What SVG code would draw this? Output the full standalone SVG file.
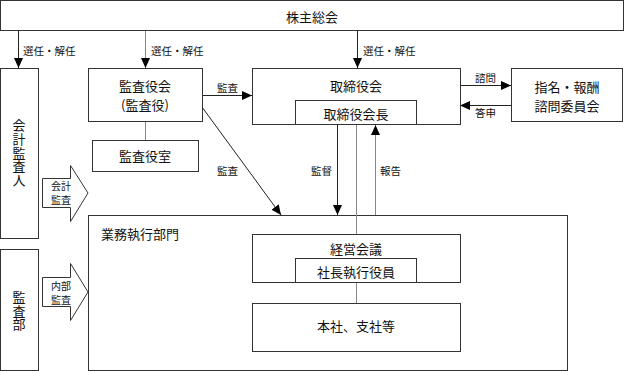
<svg xmlns="http://www.w3.org/2000/svg" width="625" height="371" viewBox="0 0 625 371">
<style>
.box{fill:#fff;stroke:#333;stroke-width:1}
.ln{fill:none;stroke:#222;stroke-width:1}
.gl{fill:none;stroke:#888;stroke-width:1}
.t{font-family:"Noto Sans CJK JP","Noto Sans CJK SC",sans-serif;font-size:13px;fill:#111;text-anchor:middle;dominant-baseline:central}
.v{font-family:"Noto Sans CJK JP","Noto Sans CJK SC",sans-serif;font-size:13px;fill:#111;text-anchor:middle;writing-mode:vertical-rl;letter-spacing:0.7px}
.s{font-family:"Noto Sans CJK JP","Noto Sans CJK SC",sans-serif;font-size:10.5px;fill:#111;dominant-baseline:central}
.a{font-family:"Noto Sans CJK JP","Noto Sans CJK SC",sans-serif;font-size:10px;fill:#111;text-anchor:middle;dominant-baseline:central}
</style>
<defs>
<marker id="ah" markerUnits="userSpaceOnUse" markerWidth="10" markerHeight="10" refX="10" refY="5" orient="auto">
<path d="M0,0.5 L10,5 L0,9.5 z" fill="#000"/>
</marker>
</defs>

<g id="shareholders">
<rect class="box" x="0.5" y="0.5" width="623" height="30"/>
<text class="t" x="312" y="16">株主総会</text>
</g>

<g id="accounting-auditor">
<rect class="box" x="0.5" y="68.5" width="38" height="170"/>
<text class="v" x="19" y="153">会計監査人</text>
</g>

<g id="audit-dept">
<rect class="box" x="0.5" y="249.5" width="38" height="121"/>
<text class="v" x="19" y="311">監査部</text>
</g>

<g id="business-exec">
<rect class="box" x="88.5" y="215.5" width="479" height="155"/>
<text class="t" x="140" y="233">業務執行部門</text>
</g>

<g id="connectors">
<line class="ln" x1="18.5" y1="31" x2="18.5" y2="68" marker-end="url(#ah)"/>
<line class="gl" x1="145.5" y1="31" x2="145.5" y2="68" marker-end="url(#ah)"/>
<line class="ln" x1="357.5" y1="31" x2="357.5" y2="68" marker-end="url(#ah)"/>
<line class="ln" x1="202" y1="95.5" x2="252" y2="95.5" marker-end="url(#ah)"/>
<line class="ln" x1="202" y1="107" x2="281" y2="215" marker-end="url(#ah)"/>
<line class="gl" x1="145.5" y1="121" x2="145.5" y2="140"/>
<line class="ln" x1="460" y1="85.5" x2="511" y2="85.5" marker-end="url(#ah)"/>
<line class="ln" x1="511" y1="105.5" x2="460" y2="105.5" marker-end="url(#ah)"/>
<line class="ln" x1="337.5" y1="125" x2="337.5" y2="215" marker-end="url(#ah)"/>
<line class="gl" x1="356.5" y1="125" x2="356.5" y2="234"/>
<line class="gl" x1="375.5" y1="215" x2="375.5" y2="125" marker-end="url(#ah)"/>
<line class="gl" x1="356.5" y1="283" x2="356.5" y2="303"/>
<text class="s" x="23" y="50">選任・解任</text>
<text class="s" x="151" y="50">選任・解任</text>
<text class="s" x="363" y="50">選任・解任</text>
<text class="s" x="217" y="87">監査</text>
<text class="s" x="217" y="170">監査</text>
<text class="s" x="311" y="170">監督</text>
<text class="s" x="380" y="170">報告</text>
<text class="s" x="475" y="77">諮問</text>
<text class="s" x="475" y="112">答申</text>
</g>

<g id="audit-board">
<rect class="box" x="88.5" y="68.5" width="114" height="53"/>
<text class="t" x="145" y="85.5">監査役会</text>
<text class="t" x="145" y="104.5">(監査役)</text>
</g>

<g id="audit-office">
<rect class="box" x="92.5" y="140.5" width="106" height="31"/>
<text class="t" x="145" y="155.5">監査役室</text>
</g>

<g id="board">
<rect class="box" x="252.5" y="68.5" width="208" height="56"/>
<text class="t" x="356" y="85">取締役会</text>
<rect class="box" x="295.5" y="100.5" width="121" height="24"/>
<text class="t" x="356" y="113">取締役会長</text>
</g>

<g id="committee">
<rect class="box" x="511.5" y="68.5" width="111" height="53"/>
<text class="t" x="567" y="86">指名・報酬</text>
<text class="t" x="567" y="105">諮問委員会</text>
</g>

<g id="mgmt-meeting">
<rect class="box" x="252.5" y="234.5" width="208" height="48"/>
<text class="t" x="356" y="248">経営会議</text>
<rect class="box" x="295.5" y="258.5" width="121" height="24"/>
<text class="t" x="356" y="271">社長執行役員</text>
</g>

<g id="branches">
<rect class="box" x="252.5" y="303.5" width="208" height="48"/>
<text class="t" x="356" y="325">本社、支社等</text>
</g>

<g id="acct-audit-arrow">
<polygon class="box" points="42.5,178.5 70.5,178.5 70.5,165.5 88,193 70.5,221.5 70.5,207.5 42.5,207.5"/>
<text class="a" x="61" y="185">会計</text>
<text class="a" x="61" y="199">監査</text>
</g>

<g id="internal-audit-arrow">
<polygon class="box" points="42.5,277.5 70.5,277.5 70.5,263.5 88,292 70.5,320.5 70.5,306.5 42.5,306.5"/>
<text class="a" x="61" y="285.5">内部</text>
<text class="a" x="61" y="299.5">監査</text>
</g>
</svg>
